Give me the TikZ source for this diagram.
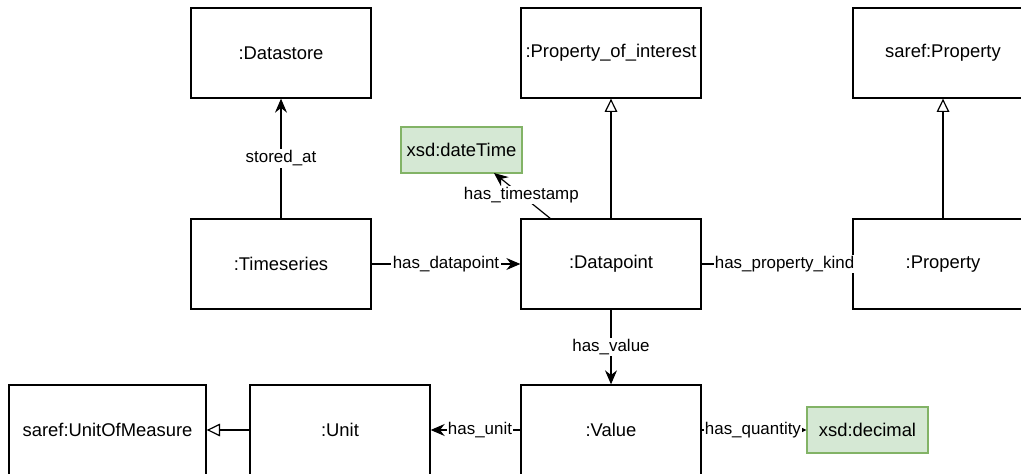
\documentclass[tikz,border=0pt]{standalone}
\usepackage{fontspec}
\setmainfont{Liberation Sans}
\usetikzlibrary{arrows.meta}
\definecolor{gfill}{HTML}{D5E8D4}
\definecolor{gline}{HTML}{82B366}
\begin{document}
\begin{tikzpicture}[x=0.75pt,y=-0.75pt,
  box/.style={draw=black,line width=1pt,fill=white,inner sep=0pt,minimum width=135pt,minimum height=67.5pt,font=\fontsize{13.8}{16}\selectfont},
  gbox/.style={draw=gline,line width=1pt,fill=gfill,inner sep=0pt,minimum width=90.75pt,minimum height=34.5pt,font=\fontsize{13.8}{16}\selectfont},
  rel/.style={draw=black,line width=0.9pt},
  lbl/.style={fill=white,inner sep=1pt,font=\fontsize{12.7}{14}\selectfont},
  arr/.style={-{Stealth[length=10.5pt,width=9pt,inset=3.5pt]}},
  sarr/.style={-{Stealth[length=4.5pt,width=4.5pt]}},
  inh/.style={-{Triangle[open,length=10pt,width=9.5pt,fill=white]}}]
\useasboundingbox (0,0) rectangle (1021,474);
\node[box] (ds) at (281,53) {:Datastore};
\node[box] (poi) at (611,53) {:Property\_of\_interest};
\node[box] (sp) at (943,53) {saref:Property};
\node[gbox] (dt) at (461.5,150) {xsd:dateTime};
\node[box] (ts) at (281,264) {:Timeseries};
\node[box] (dp) at (611,264) {:Datapoint};
\node[box] (pr) at (943,264) {:Property};
\node[box] (uom) at (107.5,430) [minimum width=147.75pt] {saref:UnitOfMeasure};
\node[box] (un) at (340,430) {:Unit};
\node[box] (va) at (611,430) {:Value};
\node[gbox] (dec) at (867.5,430) {xsd:decimal};
\coordinate (tsStart) at (551,219);
\coordinate (dtEnd) at (494,173);
\draw[rel,arr] (ts.north) -- node[lbl,pos=0.5] {stored\_at} (ds.south);
\draw[rel,arr] (tsStart) -- node[lbl,pos=0.52] {has\_timestamp} (dtEnd);
\draw[rel,arr] (ts.east) -- node[lbl,pos=0.5] {has\_datapoint} (dp.west);
\draw[rel,inh] (dp.north) -- (poi.south);
\draw[rel,inh] (pr.north) -- (sp.south);
\draw[rel] (dp.east) -- node[lbl,pos=0.55] {has\_property\_kind} (pr.west);
\draw[rel,arr] (dp.south) -- node[lbl,pos=0.5] {has\_value} (va.north);
\draw[rel,arr] (va.west) -- node[lbl,pos=0.45] {has\_unit} (un.east);
\draw[rel,inh] (un.west) -- (uom.east);
\draw[rel,sarr] (va.east) -- node[lbl,pos=0.49] {has\_quantity} (dec.west);
\end{tikzpicture}
\end{document}
